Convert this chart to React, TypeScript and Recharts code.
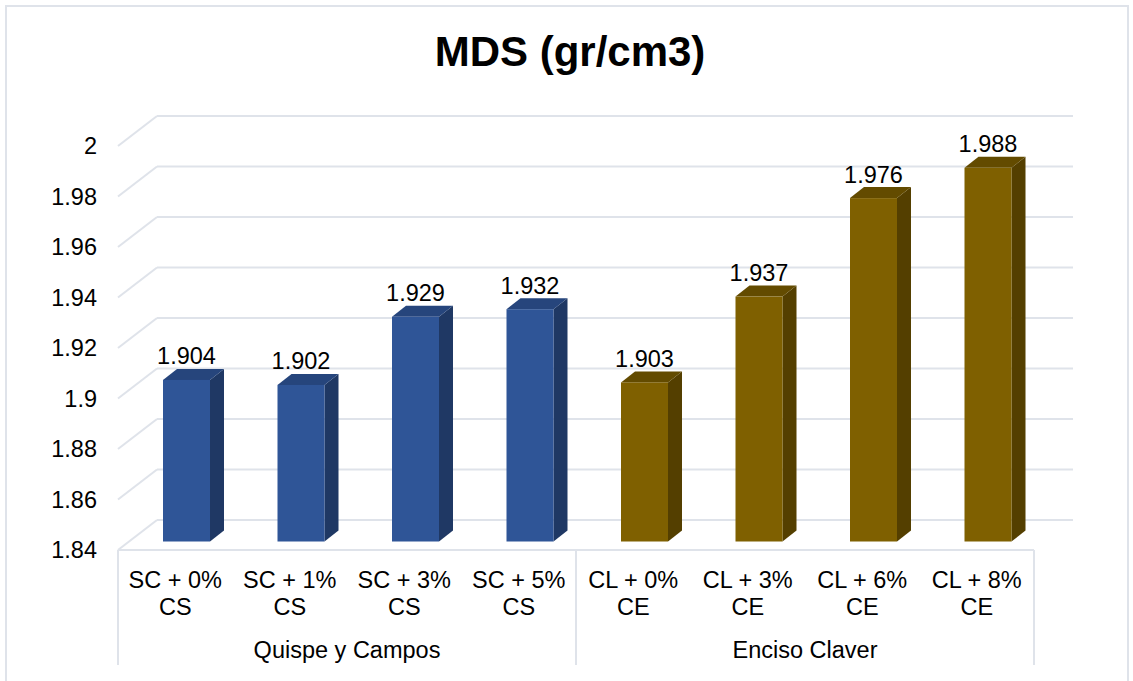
import React from "react";
import { BarChart, Bar, XAxis, YAxis, CartesianGrid, LabelList } from "recharts";

const categories = [
  "SC + 0% CS",
  "SC + 1% CS",
  "SC + 3% CS",
  "SC + 5% CS",
  "CL + 0% CE",
  "CL + 3% CE",
  "CL + 6% CE",
  "CL + 8% CE",
];
const groups = [
  "Quispe y Campos",
  "Quispe y Campos",
  "Quispe y Campos",
  "Quispe y Campos",
  "Enciso Claver",
  "Enciso Claver",
  "Enciso Claver",
  "Enciso Claver",
];
const mds = [1.904, 1.902, 1.929, 1.932, 1.903, 1.937, 1.976, 1.988];
const yTicks = [1.84, 1.86, 1.88, 1.9, 1.92, 1.94, 1.96, 1.98, 2];

const data = categories.map((name, i) => ({ name, group: groups[i], value: mds[i] }));

// look of the fake 3d
const FONT = "'Liberation Sans', Arial, sans-serif";
const GRID = "#dfe3ea";
const WALL_DX = 39; // depth of the back wall
const WALL_DY = -30;
const BAR_DX = 11; // bars sit a bit inside the floor
const BAR_DY = -8.5;
const SIDE_DX = 14; // bar depth
const SIDE_DY = -11;
const MAIN_AXIS_H = 85;
const GROUP_AXIS_H = 30;

const palette: Record<string, { front: string; side: string; top: string }> = {
  "Quispe y Campos": { front: "#2f5597", side: "#1f3864", top: "#26457c" },
  "Enciso Claver": { front: "#7f6000", side: "#543f00", top: "#634b00" },
};

const Bar3D = (props: any) => {
  const { x, y, width, height, payload } = props;
  if (height == null || width == null) return null;
  const c = palette[payload.group];
  const fx = x + BAR_DX;
  const fy = y + BAR_DY;
  const r = fx + width;
  const b = fy + height;
  return (
    <g>
      <polygon
        points={`${r},${fy} ${r + SIDE_DX},${fy + SIDE_DY} ${r + SIDE_DX},${b + SIDE_DY} ${r},${b}`}
        fill={c.side}
      />
      <polygon
        points={`${fx},${fy} ${fx + SIDE_DX},${fy + SIDE_DY} ${r + SIDE_DX},${fy + SIDE_DY} ${r},${fy}`}
        fill={c.top}
      />
      <rect x={fx} y={fy} width={width} height={height} fill={c.front} />
    </g>
  );
};

const BarValue = (props: any) => {
  const { x, y, width, value } = props;
  return (
    <text
      x={x + BAR_DX + width / 2}
      y={y + BAR_DY - 15.5}
      textAnchor="middle"
      fontSize={23.5}
      fontFamily={FONT}
      fill="#000"
    >
      {value}
    </text>
  );
};

const GridLine = (props: any) => {
  const { x1, y1, x2, y2 } = props;
  return (
    <g key={props.key}>
      <line x1={x1} y1={y1} x2={x1 + WALL_DX} y2={y1 + WALL_DY} stroke={GRID} strokeWidth={2} />
      <line
        x1={x1 + WALL_DX}
        y1={y1 + WALL_DY}
        x2={x2 + WALL_DX}
        y2={y2 + WALL_DY}
        stroke={GRID}
        strokeWidth={2}
      />
    </g>
  );
};

const YTick = (props: any) => {
  const { y, payload } = props;
  return (
    <text x={97} y={y} dy="0.36em" textAnchor="end" fontSize={23.5} fontFamily={FONT} fill="#000">
      {String(payload.value)}
    </text>
  );
};

const CatTick = (props: any) => {
  const { x, y, payload } = props;
  const s = String(payload.value);
  const cut = s.lastIndexOf(" ");
  return (
    <g>
      <text x={x} y={y + 30} dy="0.36em" textAnchor="middle" fontSize={23.5} fontFamily={FONT} fill="#000">
        {s.slice(0, cut)}
      </text>
      <text x={x} y={y + 57} dy="0.36em" textAnchor="middle" fontSize={23.5} fontFamily={FONT} fill="#000">
        {s.slice(cut + 1)}
      </text>
    </g>
  );
};

const GroupTick = (props: any) => {
  const { x, y, payload, index, width, visibleTicksCount } = props;
  const half = width / visibleTicksCount / 2;
  const top = y - MAIN_AXIS_H;
  const bottom = y + GROUP_AXIS_H;
  return (
    <g>
      <line x1={x - half} y1={top} x2={x - half} y2={bottom} stroke={GRID} strokeWidth={2} />
      {index === visibleTicksCount - 1 && (
        <line x1={x + half} y1={top} x2={x + half} y2={bottom} stroke={GRID} strokeWidth={2} />
      )}
      <text x={x} y={y + 15} dy="0.36em" textAnchor="middle" fontSize={23.5} fontFamily={FONT} fill="#000">
        {payload.value}
      </text>
    </g>
  );
};

export default function App() {
  return (
    <div
      style={{
        position: "absolute",
        left: 0,
        top: 0,
        width: 1133,
        height: 681,
        background: "#fff",
        overflow: "hidden",
      }}
    >
      <div
        style={{
          position: "absolute",
          left: 5,
          top: 5,
          width: 1124,
          height: 700,
          border: `2px solid ${GRID}`,
          boxSizing: "border-box",
        }}
      />
      <div
        style={{
          position: "absolute",
          left: 0,
          top: 28,
          width: 1140,
          textAlign: "center",
          fontFamily: FONT,
          fontWeight: "bold",
          fontSize: 42,
          lineHeight: "48px",
          color: "#000",
        }}
      >
        MDS (gr/cm3)
      </div>
      <div style={{ position: "absolute", left: 0, top: 0 }}>
        <BarChart
          width={1133}
          height={681}
          data={data}
          margin={{ top: 146, right: 99, bottom: 16, left: 18 }}
          barSize={47}
        >
          <CartesianGrid vertical={false} horizontal={(p: any) => <GridLine {...p} />} />
          <XAxis
            dataKey="name"
            interval={0}
            height={MAIN_AXIS_H}
            tickLine={false}
            tickSize={0}
            tickMargin={0}
            axisLine={{ stroke: GRID, strokeWidth: 2 }}
            tick={<CatTick />}
          />
          <XAxis
            xAxisId="group"
            dataKey="group"
            allowDuplicatedCategory={false}
            interval={0}
            height={GROUP_AXIS_H}
            tickLine={false}
            tickSize={0}
            tickMargin={0}
            axisLine={false}
            tick={<GroupTick />}
          />
          <YAxis
            domain={[1.84, 2]}
            ticks={yTicks}
            width={100}
            axisLine={false}
            tickLine={false}
            allowDataOverflow
            tick={<YTick />}
          />
          <Bar dataKey="value" shape={(p: any) => <Bar3D {...p} />} isAnimationActive={false}>
            <LabelList dataKey="value" content={(p: any) => <BarValue {...p} />} />
          </Bar>
        </BarChart>
      </div>
    </div>
  );
}
